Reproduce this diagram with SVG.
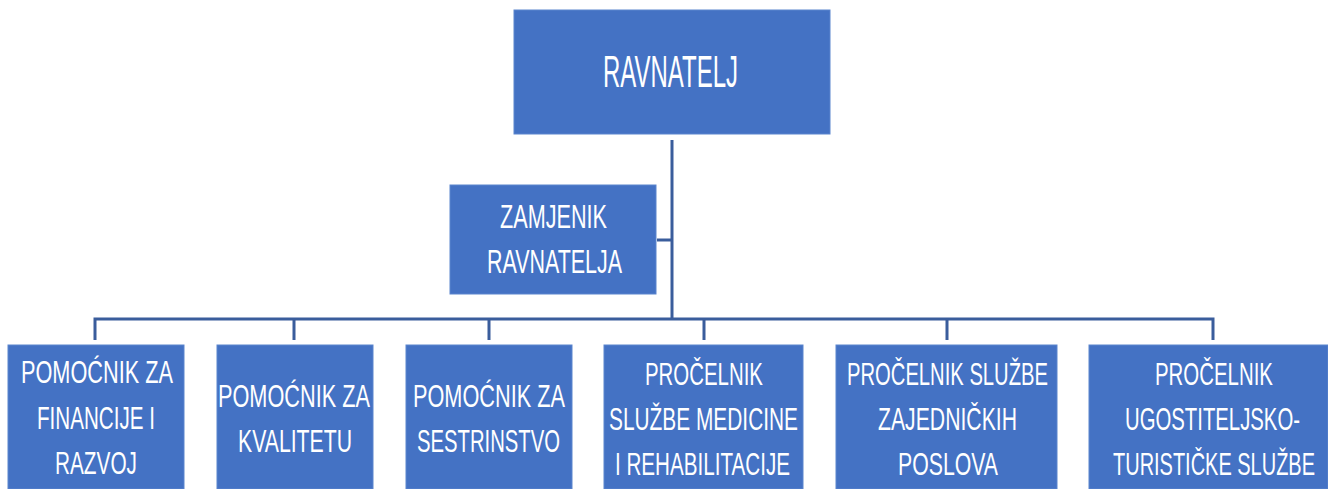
<svg xmlns="http://www.w3.org/2000/svg" width="1328" height="489" viewBox="0 0 1328 489">
<style>
.box{fill:#4472C4;stroke:#5B85CE;stroke-width:1}
.t{fill:#FFFFFF;font-family:"Liberation Sans",Arial,sans-serif;font-size:31px}
.line{stroke:#3A5D9C;stroke-width:3;fill:none}
</style>
<rect width="1328" height="489" fill="#FFFFFF"/>
<g id="connectors">
<path class="line" d="M672 140 V320"/>
<path class="line" d="M657 240 H672"/>
<path class="line" d="M95 340 V319 H1213 V340"/>
<path class="line" d="M294 319 V340 M489 319 V340 M704 319 V340 M947 319 V340"/>
</g>
<g id="ravnatelj">
<rect class="box" x="514" y="10" width="316" height="124"/>
<text class="t" x="603" y="87" style="font-size:44px" textLength="135" lengthAdjust="spacingAndGlyphs">RAVNATELJ</text>
</g>
<g id="zamjenik">
<rect class="box" x="450" y="185" width="206" height="109"/>
<text class="t" x="500" y="228" style="font-size:34px" textLength="107" lengthAdjust="spacingAndGlyphs">ZAMJENIK</text>
<text class="t" x="487" y="273" style="font-size:34px" textLength="135" lengthAdjust="spacingAndGlyphs">RAVNATELJA</text>
</g>
<g id="financije">
<rect class="box" x="8" y="345" width="176" height="144"/>
<text class="t" x="21" y="383" textLength="152" lengthAdjust="spacingAndGlyphs">POMOĆNIK ZA</text>
<text class="t" x="37" y="429" textLength="118" lengthAdjust="spacingAndGlyphs">FINANCIJE I</text>
<text class="t" x="55" y="474" textLength="82" lengthAdjust="spacingAndGlyphs">RAZVOJ</text>
</g>
<g id="kvaliteta">
<rect class="box" x="217" y="345" width="156" height="144"/>
<text class="t" x="218" y="407" textLength="152" lengthAdjust="spacingAndGlyphs">POMOĆNIK ZA</text>
<text class="t" x="238" y="452" textLength="114" lengthAdjust="spacingAndGlyphs">KVALITETU</text>
</g>
<g id="sestrinstvo">
<rect class="box" x="406" y="345" width="166" height="144"/>
<text class="t" x="413" y="407" textLength="152" lengthAdjust="spacingAndGlyphs">POMOĆNIK ZA</text>
<text class="t" x="417" y="452" textLength="143" lengthAdjust="spacingAndGlyphs">SESTRINSTVO</text>
</g>
<g id="medicina">
<rect class="box" x="604" y="345" width="199" height="144"/>
<text class="t" x="645" y="385" textLength="118" lengthAdjust="spacingAndGlyphs">PROČELNIK</text>
<text class="t" x="609" y="430" textLength="189" lengthAdjust="spacingAndGlyphs">SLUŽBE MEDICINE</text>
<text class="t" x="615" y="475" textLength="175" lengthAdjust="spacingAndGlyphs">I REHABILITACIJE</text>
</g>
<g id="zajednicki">
<rect class="box" x="836" y="345" width="221" height="144"/>
<text class="t" x="847" y="385" textLength="201" lengthAdjust="spacingAndGlyphs">PROČELNIK SLUŽBE</text>
<text class="t" x="878" y="430" textLength="139" lengthAdjust="spacingAndGlyphs">ZAJEDNIČKIH</text>
<text class="t" x="898" y="475" textLength="100" lengthAdjust="spacingAndGlyphs">POSLOVA</text>
</g>
<g id="ugostiteljstvo">
<rect class="box" x="1089" y="345" width="239" height="144"/>
<text class="t" x="1155" y="385" textLength="118" lengthAdjust="spacingAndGlyphs">PROČELNIK</text>
<text class="t" x="1125" y="430" textLength="175" lengthAdjust="spacingAndGlyphs">UGOSTITELJSKO-</text>
<text class="t" x="1113" y="475" textLength="202" lengthAdjust="spacingAndGlyphs">TURISTIČKE SLUŽBE</text>
</g>
</svg>
